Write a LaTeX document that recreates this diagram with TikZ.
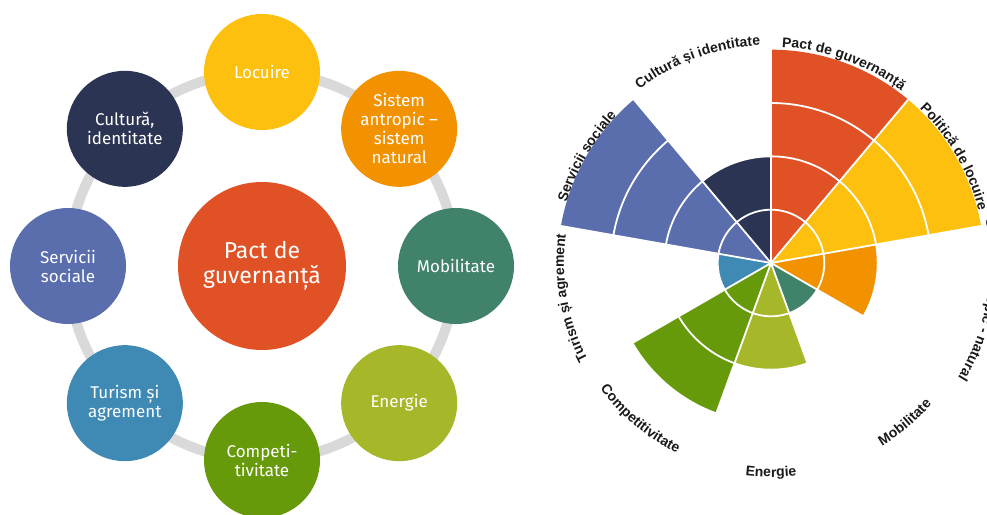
\documentclass[tikz,border=0pt]{standalone}
\usepackage{fontspec}
\setmainfont{Fira Sans}
\newfontfamily\labfont{Liberation Sans}
\usetikzlibrary{decorations.text}

\definecolor{cPact}{HTML}{E05226}
\definecolor{cLoc}{HTML}{FDC00F}
\definecolor{cSis}{HTML}{F39200}
\definecolor{cMob}{HTML}{41826B}
\definecolor{cEne}{HTML}{A6B72A}
\definecolor{cCom}{HTML}{679A0A}
\definecolor{cTur}{HTML}{3F8AB4}
\definecolor{cSer}{HTML}{5A6EAE}
\definecolor{cCul}{HTML}{2B3553}
\definecolor{cRing}{HTML}{D9D9D9}
\definecolor{labc}{HTML}{1A1A1A}

\newcommand\mysector[4]{\fill[#1] (C) -- ([shift={(#2:#4)}]C) arc[start angle=#2, end angle=#3, radius=#4] -- cycle;}

\begin{document}
\begin{tikzpicture}[x=1pt,y=1pt,
  sat/.style={circle, minimum size=116pt, inner sep=0pt, align=center, text=white,
    font=\fontsize{17}{19}\selectfont},
  hub/.style={circle, minimum size=168pt, inner sep=0pt, align=center, text=white,
    font=\fontsize{23}{25}\selectfont},
  ringline/.style={draw=cRing, line width=10pt},
  gridline/.style={white, line width=1.8pt},
  lab/.style={decorate, decoration={text along path, text align=center, text color=labc,
    text={|\labfont\bfseries\fontsize{14}{14}\selectfont|#1}}}
]
\clip (0,0) rectangle (987,514);
\fill[white] (0,0) rectangle (987,514);

% ---------- left: circle diagram ----------
\coordinate (L) at (262,248);
\draw[ringline] (L) circle[radius=194];
\node[hub, fill=cPact] (pact) at (L) {Pact de\\guvernanță};
\node[sat, fill=cLoc] (loc) at ([shift={(90:194)}]pact.center) {Locuire};
\node[sat, fill=cSis] (sis) at ([shift={(45:194)}]pact.center) {Sistem\\antropic –\\sistem\\natural};
\node[sat, fill=cMob] (mob) at ([shift={(0:194)}]pact.center) {Mobilitate};
\node[sat, fill=cEne] (ene) at ([shift={(-45:194)}]pact.center) {Energie};
\node[sat, fill=cCom] (com) at ([shift={(-90:194)}]pact.center) {Competi-\\tivitate};
\node[sat, fill=cTur] (tur) at ([shift={(-135:194)}]pact.center) {Turism și\\agrement};
\node[sat, fill=cSer] (ser) at ([shift={(180:194)}]pact.center) {Servicii\\sociale};
\node[sat, fill=cCul] (cul) at ([shift={(135:194)}]pact.center) {Cultură,\\identitate};

% ---------- right: polar area chart ----------
\coordinate (C) at (771,251);
\mysector{cPact}{90}{50}{213.33}
\mysector{cLoc}{50}{10}{213.33}
\mysector{cSis}{10}{-30}{106.67}
\mysector{cMob}{-30}{-70}{53.33}
\mysector{cEne}{-70}{-110}{106.67}
\mysector{cCom}{-110}{-150}{160}
\mysector{cTur}{210}{170}{53.33}
\mysector{cSer}{170}{130}{213.33}
\mysector{cCul}{130}{90}{106.67}

\foreach \r in {53.33,106.67,160}
  \draw[gridline] (C) circle[radius=\r];
\foreach \a in {90,50,10,-30,-70,-110,-150,170,130}
  \draw[gridline] (C) -- ([shift={(\a:214)}]C);

% labels
\path[lab={Pact de guvernanță}] ([shift={(120:216)}]C) arc[start angle=120, end angle=20, radius=216];
\path[lab={Politică de locuire}] ([shift={(80:214)}]C) arc[start angle=80, end angle=-20, radius=214];
\path[lab={Sistem antropic - natural}] ([shift={(40:219)}]C) arc[start angle=40, end angle=-60, radius=219];
\path[lab={Mobilitate}] ([shift={(-100:214)}]C) arc[start angle=-100, end angle=0, radius=214];
\path[lab={Energie}] ([shift={(-140:214)}]C) arc[start angle=-140, end angle=-40, radius=214];
\path[lab={Competitivitate}] ([shift={(-180:212)}]C) arc[start angle=-180, end angle=-80, radius=212];
\path[lab={Turism și agrement}] ([shift={(240:207)}]C) arc[start angle=240, end angle=140, radius=207];
\path[lab={Servicii sociale}] ([shift={(200:213)}]C) arc[start angle=200, end angle=100, radius=213];
\path[lab={Cultură și identitate}] ([shift={(160:218)}]C) arc[start angle=160, end angle=60, radius=218];
\end{tikzpicture}
\end{document}
